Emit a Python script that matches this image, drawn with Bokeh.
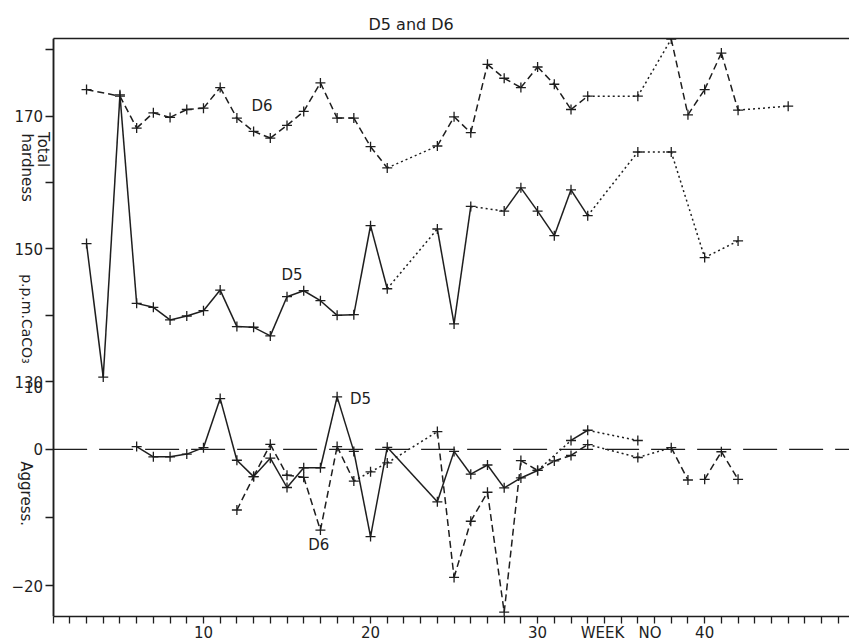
import math
from bokeh.plotting import figure
from bokeh.models import (Range1d, LinearAxis, FixedTicker, Label)
from bokeh.core.properties import value
from bokeh.embed import file_html
from bokeh.resources import INLINE

FONT = "DejaVu Sans"
INK = "#1e1e1e"

# ---------------- data ----------------
# Total hardness (p.p.m. CaCO3)
d5_hard_weeks = [3, 4, 5, 6, 7, 8, 9, 10, 11, 12, 13, 14, 15, 16, 17, 18, 19, 20, 21,
                 24, 25, 26, 28, 29, 30, 31, 32, 33, 36, 38, 40, 42]
d5_hard = [150.8, 130.7, 173.2, 141.8, 141.2, 139.3, 139.9, 140.7, 143.8, 138.3, 138.2,
           136.9, 142.8, 143.7, 142.2, 140.0, 140.1, 153.5, 144.0,
           153.0, 138.7, 156.4, 155.7, 159.2, 155.7, 152.0, 158.9, 155.0, 164.6, 164.6,
           148.7, 151.2]
d5_hard_links = ["solid"] * 18 + ["dotted"] + ["solid"] * 2 + ["dotted"] + ["solid"] * 5 + ["dotted"] * 4

d6_hard_weeks = [3, 5, 6, 7, 8, 9, 10, 11, 12, 13, 14, 15, 16, 17, 18, 19, 20, 21,
                 24, 25, 26, 27, 28, 29, 30, 31, 32, 33, 36, 38, 39, 40, 41, 42, 45]
d6_hard = [174.0, 173.0, 168.2, 170.5, 169.8, 171.0, 171.2, 174.3, 169.7, 167.7, 166.7,
           168.6, 170.7, 175.0, 169.7, 169.7, 165.4, 162.2,
           165.5, 169.9, 167.5, 177.8, 175.7, 174.3, 177.4, 174.8, 171.0, 173.0,
           173.0, 181.6, 170.2, 174.0, 179.5, 170.9, 171.5]
d6_hard_links = ["dashed"] * 17 + ["dotted"] + ["dashed"] * 9 + ["dotted"] * 2 + ["dashed"] * 4 + ["dotted"]

# Aggressiveness
d5_agg_weeks = [6, 7, 8, 9, 10, 11, 12, 13, 14, 15, 16, 17, 18, 19, 20, 21,
                24, 25, 26, 27, 28, 29, 30, 32, 33, 36]
d5_agg = [0.4, -1.1, -1.1, -0.7, 0.25, 7.45, -1.6, -4.0, -1.3, -5.6, -2.7, -2.7, 7.7,
          -0.3, -12.8, 0.3, -7.7, -0.3, -3.65, -2.3, -5.65, -4.2, -3.1, 1.3, 2.8, 1.3]
d5_agg_links = ["solid"] * 15 + ["solid"] + ["solid"] * 6 + ["dotted", "solid", "dotted"]

d6_agg_weeks = [12, 13, 14, 15, 16, 17, 18, 19, 20, 21,
                24, 25, 26, 27, 28, 29, 30, 31, 32, 33, 36, 38, 39, 40, 41, 42]
d6_agg = [-8.9, -4.0, 0.73, -3.8, -4.1, -11.85, 0.4, -4.65, -3.3, -2.0,
          2.6, -18.8, -10.55, -6.3, -23.9, -1.65, -3.1, -1.7, -0.9, 0.7, -1.2, 0.25,
          -4.5, -4.4, -0.35, -4.4]
d6_agg_links = (["dashed"] * 7 + ["dotted"] * 3 + ["dashed"] * 9 + ["dotted"] * 2
                + ["dashed", None, "dashed", "dashed"])

hard_ticks = [130, 140, 150, 160, 170, 180]
hard_labels = {140: "", 160: "", 180: ""}
agg_ticks = [0, -10, -20]
agg_labels = {-10: ""}
week_ticks = list(range(1, 49))
week_labels = {10: "10", 20: "20", 30: "30", 35: "WEEK\u00a0\u00a0\u00a0NO", 40: "40"}

DASH = {"solid": "solid", "dashed": "7 4", "dotted": "2 3"}

X0, X1 = -2.15, 48.67       # visible week range (axis starts at week 1)

# ---------------- figure ----------------
p = figure(width=849, height=644,
           x_range=Range1d(X0, X1), y_range=Range1d(94.64, 181.69),
           output_backend="svg", toolbar_location=None,
           min_border_left=0, min_border_right=0, min_border_top=38, min_border_bottom=25)
p.extra_y_ranges = {"agg": Range1d(-24.53, 60.29)}
p.outline_line_color = None
p.background_fill_color = "white"
p.border_fill_color = "white"
p.xgrid.grid_line_color = None
p.ygrid.grid_line_color = None

p.title.text = "D5 and D6"
p.title.align = "left"
p.title.offset = 368
p.title.text_font = FONT
p.title.text_font_size = "16px"
p.title.text_font_style = "normal"
p.title.text_color = INK

def style_axis(ax):
    ax.axis_line_color = INK
    ax.axis_line_width = 1.5
    ax.major_tick_line_color = INK
    ax.major_tick_line_width = 1.3
    ax.minor_tick_line_color = None
    ax.major_tick_in = 0
    ax.major_label_text_font = FONT
    ax.major_label_text_font_size = "15px"
    ax.major_label_text_color = INK

# bottom axis
xa = p.xaxis[0]
style_axis(xa)
xa.ticker = FixedTicker(ticks=week_ticks)
xa.major_label_overrides = {w: week_labels.get(w, "") for w in week_ticks}
xa.major_tick_out = 7
xa.major_label_standoff = 0
xa.bounds = (1, X1)

# left hardness axis, drawn at week 1
ya = p.yaxis[0]
style_axis(ya)
ya.fixed_location = 1
ya.ticker = FixedTicker(ticks=hard_ticks)
ya.major_label_overrides = hard_labels
ya.major_tick_out = 8
ya.major_label_standoff = 2
ya.major_label_text_baseline = "alphabetic"

# left aggressiveness axis, drawn on the same line
ag = LinearAxis(y_range_name="agg", fixed_location=1, ticker=FixedTicker(ticks=agg_ticks),
                major_label_overrides=agg_labels)
style_axis(ag)
ag.major_tick_out = 8
ag.major_label_standoff = 2
ag.major_label_text_baseline = "alphabetic"
p.add_layout(ag, "left")

# top frame line
top = LinearAxis(ticker=FixedTicker(ticks=[]), major_tick_out=0, major_tick_in=0,
                 minor_tick_out=0, minor_tick_in=0, major_label_text_font_size="0px",
                 major_label_standoff=0, axis_line_color=INK, axis_line_width=1.5,
                 bounds=(1, X1))
p.add_layout(top, "above")

# zero line of aggressiveness
p.segment(x0=[1], y0=[0], x1=[X1], y1=[0], y_range_name="agg",
          line_color=INK, line_width=1.3, line_dash="34 12")

def add_series(weeks, vals, links, rng=None):
    groups = {}
    for i, st in enumerate(links):
        if st is None:
            continue
        g = groups.setdefault(st, ([], [], [], []))
        g[0].append(weeks[i]); g[1].append(vals[i])
        g[2].append(weeks[i + 1]); g[3].append(vals[i + 1])
    kw = {} if rng is None else {"y_range_name": rng}
    for st, (x0, y0, x1, y1) in groups.items():
        p.segment(x0=x0, y0=y0, x1=x1, y1=y1, line_color=INK, line_width=1.5,
                  line_dash=DASH[st], **kw)
    p.scatter(weeks, vals, marker="cross", size=10, line_width=1.3, color=INK, **kw)

add_series(d5_hard_weeks, d5_hard, d5_hard_links)
add_series(d6_hard_weeks, d6_hard, d6_hard_links)
add_series(d5_agg_weeks, d5_agg, d5_agg_links, "agg")
add_series(d6_agg_weeks, d6_agg, d6_agg_links, "agg")

# series labels inside the plot
p.text(x=[13.5, 15.3], y=[171.5, 146.0], text=["D6", "D5"], text_align="center",
       text_baseline="middle", text_font=value(FONT), text_font_size="15px", text_color=INK)
p.text(x=[19.4, 16.9], y=[7.45, -14.0], text=["D5", "D6"], text_align="center",
       text_baseline="middle", text_font=value(FONT), text_font_size="15px", text_color=INK,
       y_range_name="agg")

# the "10" of the aggressiveness scale sits under the shared tick
p.add_layout(Label(x=1, y=10, y_range_name="agg", x_offset=-10, text="10",
                   text_align="right", text_baseline="top", text_font=FONT,
                   text_font_size="15px", text_color=INK))

# rotated axis titles
for txt, y, off, size, rng in [("Total", 167.6, -10, "15px", None),
                               ("hardness", 167.4, -26, "15px", None),
                               ("p.p.m.CaCO\u2083", 146.2, -26, "14px", None),
                               ("Aggress.", -1.75, -27, "15px", "agg")]:
    kw = {} if rng is None else {"y_range_name": rng}
    p.add_layout(Label(x=1, y=y, x_offset=off, text=txt, angle=-math.pi / 2,
                       text_align="left", text_baseline="middle", text_font=FONT,
                       text_font_size=size, text_color=INK, **kw))

open("out.html", "w").write(file_html(p, INLINE))
